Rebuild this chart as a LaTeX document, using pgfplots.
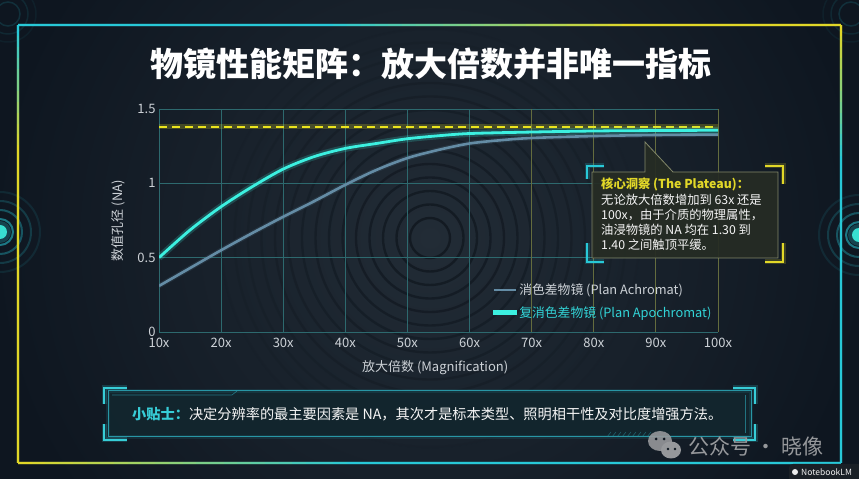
\documentclass[border=0pt]{standalone}
\usepackage{pgfplots}
\usepackage{pgfplotstable}
\pgfplotsset{compat=1.18}
\usepackage{fontspec}
\setmainfont{Noto Sans CJK SC}
\definecolor{bg}{RGB}{14,22,32}
\definecolor{bglight}{RGB}{34,44,54}
\definecolor{ringc}{RGB}{8,13,20}
\definecolor{cy}{RGB}{60,240,224}
\definecolor{cytext}{RGB}{50,212,215}
\definecolor{ach}{RGB}{100,140,165}
\definecolor{yel}{RGB}{235,228,30}
\definecolor{fcy}{RGB}{40,200,215}
\definecolor{fye}{RGB}{225,215,40}
\definecolor{gridc}{RGB}{45,105,110}
\definecolor{gridy}{RGB}{100,108,62}
\definecolor{tickc}{RGB}{205,210,215}
\definecolor{tipc}{RGB}{55,205,215}
\definecolor{callfill}{RGB}{38,44,36}
\definecolor{callline}{RGB}{130,135,105}
\definecolor{tipfill}{RGB}{18,38,46}
\definecolor{tipline}{RGB}{40,150,165}
\definecolor{wm}{RGB}{150,152,155}
\definecolor{badge}{RGB}{26,32,38}

\pgfplotstableread{
x y
10 0.31
15 0.43
20 0.55
25 0.665
30 0.775
35 0.88
40 0.99
45 1.09
50 1.17
55 1.225
60 1.268
65 1.29
70 1.305
80 1.318
90 1.325
100 1.328
}\achro
\pgfplotstableread{
x y
10 0.50
15 0.686
20 0.843
25 0.977
30 1.096
35 1.18
40 1.235
45 1.268
50 1.30
55 1.32
60 1.335
70 1.345
80 1.352
90 1.355
100 1.357
}\apo

\begin{document}
\begin{tikzpicture}
\path[use as bounding box] (0,0) rectangle (859pt,479pt);
\begin{scope}[shift={(0,479pt)},x=1pt,y=-1pt]
  % background
  \fill[bg] (0,0) rectangle (859,479);
  \begin{scope}
    \clip (0,0) rectangle (859,479);
    \shade[inner color=bglight, outer color=bg] (430,238) circle (440pt);
    \foreach \r in {20,33.5,...,210} {
      \pgfmathsetmacro\op{0.6*(1-\r/230)}
      \draw[ringc, line width=2.4pt, opacity=\op] (430,238) circle (\r pt);
    }
    % edge ripples
    \foreach \cx/\cy in {0/232,859/235} {
      \fill[fcy, opacity=0.25] (\cx,\cy) circle (11pt);
      \fill[cy, opacity=0.9] (\cx,\cy) circle (7pt);
      \draw[fcy, opacity=0.55, line width=2pt] (\cx,\cy) circle (13pt);
      \draw[fcy, opacity=0.35, line width=2pt] (\cx,\cy) circle (22pt);
      \draw[fcy, opacity=0.2, line width=2pt] (\cx,\cy) circle (31pt);
      \draw[fcy, opacity=0.1, line width=2pt] (\cx,\cy) circle (40pt);
    }
    \foreach \cx/\cy in {8/14,851/14} {
      \draw[fcy, opacity=0.15, line width=1.5pt] (\cx,\cy) circle (12pt);
      \draw[fcy, opacity=0.1, line width=1.5pt] (\cx,\cy) circle (20pt);
      \draw[fcy, opacity=0.06, line width=1.5pt] (\cx,\cy) circle (28pt);
    }
  \end{scope}
  % frame: top edge cyan -> yellow
  \foreach \i in {0,...,59} {
    \pgfmathsetmacro\xa{18+\i*13.71667}
    \pgfmathsetmacro\xb{18+(\i+1)*13.71667}
    \pgfmathtruncatemacro\p{max(0,min(100,(\xa-320)/3))}
    \draw[fye!\p!fcy, line width=4pt, opacity=0.18] (\xa,25) -- (\xb,25);
    \draw[fye!\p!fcy, line width=1.3pt] (\xa,25) -- (\xb,25);
  }
  % right edge yellow -> cyan
  \foreach \i in {0,...,39} {
    \pgfmathsetmacro\ya{25+\i*10.95}
    \pgfmathsetmacro\yb{25+(\i+1)*10.95}
    \pgfmathtruncatemacro\p{max(0,min(100,100-(\ya-25)/1.3))}
    \draw[fye!\p!fcy, line width=4pt, opacity=0.18] (841,\ya) -- (841,\yb);
    \draw[fye!\p!fcy, line width=1.3pt] (841,\ya) -- (841,\yb);
  }
  % left edge cyan -> yellow
  \foreach \i in {0,...,39} {
    \pgfmathsetmacro\ya{25+\i*10.95}
    \pgfmathsetmacro\yb{25+(\i+1)*10.95}
    \pgfmathtruncatemacro\p{max(0,min(100,(\ya-25)/1.2))}
    \draw[fye!\p!fcy, line width=4pt, opacity=0.18] (18,\ya) -- (18,\yb);
    \draw[fye!\p!fcy, line width=1.3pt] (18,\ya) -- (18,\yb);
  }
  % bottom edge yellow -> cyan
  \foreach \i in {0,...,59} {
    \pgfmathsetmacro\xa{18+\i*13.71667}
    \pgfmathsetmacro\xb{18+(\i+1)*13.71667}
    \pgfmathtruncatemacro\p{max(0,min(100,100-(\xa-18)/3.3))}
    \draw[fye!\p!fcy, line width=4pt, opacity=0.18] (\xa,463) -- (\xb,463);
    \draw[fye!\p!fcy, line width=1.3pt] (\xa,463) -- (\xb,463);
  }
  % title
  \node[anchor=base, text=white, inner sep=0pt, font=\fontsize{33}{33}\selectfont\bfseries] at (431,77) {物镜性能矩阵：放大倍数并非唯一指标};
\end{scope}

\begin{axis}[
  at={(159pt,147pt)}, anchor=south west,
  scale only axis, width=559pt, height=223pt,
  xmin=10, xmax=100, ymin=0, ymax=1.5,
  xtick={10,20,30,40,50,60},
  xticklabels={10x,20x,30x,40x,50x,60x},
  extra x ticks={70,80,90,100},
  extra x tick labels={70x,80x,90x,100x},
  extra tick style={grid=major, major grid style={draw=gridy, line width=0.8pt}},
  ytick={0,0.5,1,1.5},
  yticklabels={0,0.5,1,1.5},
  grid=major,
  major grid style={draw=gridc, line width=0.8pt},
  axis line style={draw=none},
  major tick length=0pt,
  /pgf/number format/assume math mode=true,
  ticklabel style={font=\fontsize{13}{13}\selectfont, text=tickc},
  xticklabel style={yshift=-3pt},
  xlabel={放大倍数 (Magnification)},
  ylabel={数值孔径 (NA)},
  xlabel style={at={(axis description cs:0.494,-0.161)}, anchor=center, font=\fontsize{13}{13}\selectfont, text=tickc},
  ylabel style={at={(axis description cs:-0.0733,0.5)}, anchor=center, rotate=0, font=\fontsize{13}{13}\selectfont, text=tickc},
  legend style={at={(0.992,0.05)}, anchor=south east, draw=none, fill=none,
    font=\fontsize{12.8}{13}\selectfont, text=tickc, inner sep=0pt, row sep=6pt},
  legend cell align=left,
  legend image code/.code={\draw[#1] (0pt,0pt) -- (22pt,0pt);},
]
\addplot[yel, opacity=0.22, line width=5pt, forget plot] coordinates {(10,1.38) (100,1.38)};
\addplot[yel, line width=1.8pt, dash pattern=on 8pt off 5pt, forget plot] coordinates {(10,1.38) (100,1.38)};
\addplot[ach, opacity=0.15, line width=5pt, smooth, forget plot] table {\achro};
\addplot[ach, line width=2.6pt, smooth] table {\achro};
\addlegendentry{消色差物镜 (Plan Achromat)}
\addplot[cy, opacity=0.2, line width=7pt, smooth, forget plot] table {\apo};
\addplot[cy, line width=2.8pt, smooth,
  legend image code/.code={\shade[left color=cy, right color=yel] (0pt,-1.3pt) rectangle (22pt,1.3pt);}] table {\apo};
\addlegendentry{\textcolor{cytext}{复消色差物镜 (Plan Apochromat)}}
\end{axis}

\begin{scope}[shift={(0,479pt)},x=1pt,y=-1pt]
  % callout
  \fill[callfill, opacity=0.93] (592,172) -- (645,172) -- (645,142) -- (673,172) -- (778,172) -- (778,258) -- (592,258) -- cycle;
  \draw[callline, line width=0.8pt] (592,172) -- (645,172) -- (645,142) -- (673,172) -- (778,172) -- (778,258) -- (592,258) -- cycle;
  \foreach \w/\o in {5/0.2,2.2/1} {
    \draw[fcy, line width=\w pt, opacity=\o] (604,166) -- (587,166) -- (587,179);
    \draw[fcy, line width=\w pt, opacity=\o] (587,243) -- (587,262) -- (604,262);
    \draw[fye, line width=\w pt, opacity=\o] (765,166) -- (783,166) -- (783,184);
    \draw[fye, line width=\w pt, opacity=\o] (783,243) -- (783,262) -- (765,262);
  }
  \begin{scope}[every node/.style={anchor=base west, inner sep=0pt, font=\fontsize{12.3}{12.3}\selectfont}]
    \node[text=fye, font=\fontsize{12.3}{12.3}\selectfont\bfseries] at (601,189) {核心洞察 (The Plateau)：};
    \node[text=white!92!gray] at (601,204.5) {无论放大倍数增加到 63x 还是};
    \node[text=white!92!gray] at (601,219.5) {100x，由于介质的物理属性，};
    \node[text=white!92!gray] at (601,234.5) {油浸物镜的 NA 均在 1.30 到};
    \node[text=white!92!gray] at (601,250) {1.40 之间触顶平缓。};
  \end{scope}
  % tip box
  \fill[tipfill, opacity=0.95] (108,391) rectangle (751,437);
  \draw[tipline, line width=4pt, opacity=0.15] (108,391) rectangle (751,437);
  \draw[tipline, line width=1pt] (108,391) rectangle (751,437);
  \draw[tipline, line width=0.6pt, opacity=0.7] (112,395) -- (232,395) -- (237,391);
  \draw[tipline, line width=0.6pt, opacity=0.7] (745,395) -- (745,433);
  \foreach \w/\o in {5/0.2,2/1} {
    \draw[tipc, line width=\w pt, opacity=\o] (127,388) -- (104,388) -- (104,404);
    \draw[tipc, line width=\w pt, opacity=\o] (104,424) -- (104,440) -- (127,440);
    \draw[tipc, line width=\w pt, opacity=\o] (733,388) -- (755,388) -- (755,404);
    \draw[tipc, line width=\w pt, opacity=\o] (755,424) -- (755,440) -- (733,440);
  }
  \foreach \k in {0,...,8} {
    \draw[tipline, opacity=0.5, line width=0.6pt] (607+\k*5,437) -- (611+\k*5,432);
  }
  \node[anchor=base west, inner sep=0pt, font=\fontsize{14.2}{14.2}\selectfont] at (132,420)
    {\textcolor{tipc}{\bfseries 小贴士：}\textcolor{white!92!gray}{决定分辨率的最主要因素是 NA，其次才是标本类型、照明相干性及对比度增强方法。}};
  % watermark
  \fill[wm, opacity=0.9] (660,441) ellipse (12pt and 10pt);
  \fill[wm] (671,450) ellipse (10pt and 8.5pt);
  \fill[bg] (656,439) circle (1.5pt);
  \fill[bg] (664,439) circle (1.5pt);
  \fill[bg] (668,449) circle (1.3pt);
  \fill[bg] (675,449) circle (1.3pt);
  \node[anchor=base west, inner sep=0pt, text=wm, font=\fontsize{21}{21}\selectfont] at (688,455) {公众号 · 晓像};
  % badge
  \fill[badge, rounded corners=4pt] (789,464) rectangle (862,482);
  \fill[white!85!gray] (795,472) circle (3pt);
  \node[anchor=base west, inner sep=0pt, text=white!88!gray, font=\fontsize{8.5}{8.5}\selectfont] at (801,475) {NotebookLM};
\end{scope}
\end{tikzpicture}
\end{document}
